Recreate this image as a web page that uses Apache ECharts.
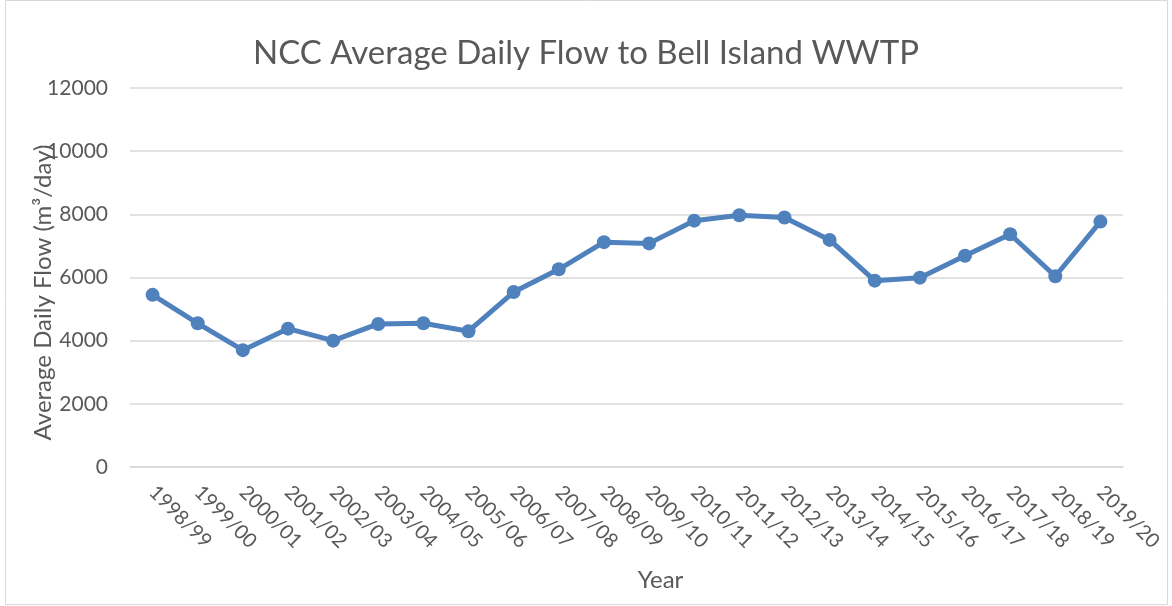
<!DOCTYPE html>
<html><head><meta charset="utf-8">
<script src="https://cdn.jsdelivr.net/npm/echarts@6/dist/echarts.min.js"></script>
<style>html,body{margin:0;padding:0;background:#fff}#c{width:1172px;height:606px}</style>
</head><body><div id="c"></div>
<script>
const categories = ['1998/99','1999/00','2000/01','2001/02','2002/03','2003/04','2004/05','2005/06','2006/07','2007/08','2008/09','2009/10','2010/11','2011/12','2012/13','2013/14','2014/15','2015/16','2016/17','2017/18','2018/19','2019/20'];
const flow = [5450,4550,3700,4380,4000,4530,4550,4300,5540,6260,7120,7080,7800,7970,7900,7190,5900,5995,6690,7370,6040,7770];
const yTicks = [0,2000,4000,6000,8000,10000,12000];

const chart = echarts.init(document.getElementById('c'));
const font = 'Lato';
chart.setOption({
  animation:false,
  graphic:[{type:'rect',shape:{x:5.5,y:0.5,width:1162,height:604},style:{fill:'none',stroke:'#d9d9d9',lineWidth:1}}],
  title:{text:'NCC Average Daily Flow to Bell Island WWTP',left:'center',top:32,
    textStyle:{fontFamily:font,fontSize:33,fontWeight:'normal',color:'#595959'}},
  grid:{left:130,right:49,top:88,bottom:139},
  xAxis:{type:'category',data:categories,boundaryGap:true,
    name:'Year',nameLocation:'middle',nameGap:101,nameMoveOverlap:false,
    nameTextStyle:{fontFamily:font,fontSize:24,color:'#595959',padding:[0,0,0,68]},
    axisLine:{lineStyle:{color:'#d9d9d9',width:1.5}},axisTick:{show:false},
    axisLabel:{rotate:-45,fontFamily:font,fontSize:20,color:'#595959',margin:22,interval:0}},
  yAxis:{type:'value',min:yTicks[0],max:yTicks[yTicks.length-1],interval:2000,
    name:'Average Daily Flow (m³/day)',nameLocation:'middle',nameGap:75,nameMoveOverlap:false,
    nameTextStyle:{fontFamily:font,fontSize:24,color:'#595959',padding:[0,30,0,0]},
    axisLine:{show:false},axisTick:{show:false},
    axisLabel:{fontFamily:font,fontSize:21,color:'#595959',margin:22,formatter:v=>String(v)},
    splitLine:{lineStyle:{color:'#d9d9d9',width:1.5}}},
  series:[{type:'line',data:flow,symbol:'circle',symbolSize:14,
    lineStyle:{color:'#4F81BD',width:5},itemStyle:{color:'#4F81BD'}}]
});
</script></body></html>
